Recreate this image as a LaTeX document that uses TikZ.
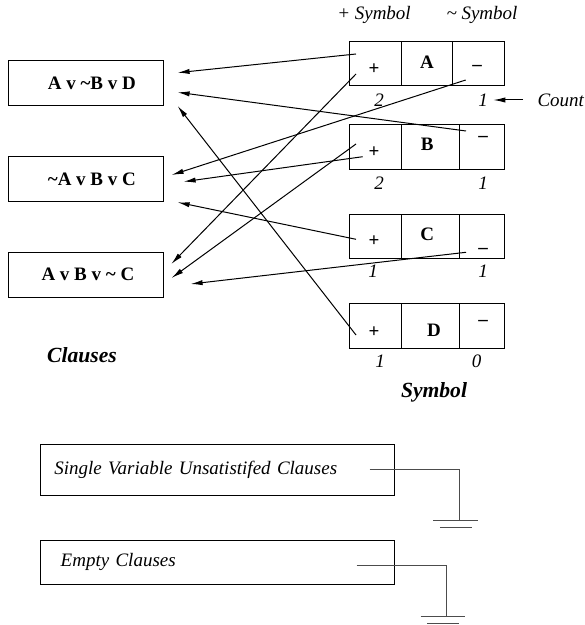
\documentclass[tikz,border=0pt]{standalone}
\usepackage{fontspec}
\setmainfont{Liberation Serif}
\usepackage{tikz}
\usetikzlibrary{positioning,calc,arrows.meta}

\newcommand{\figfont}{\fontsize{9.5}{11}\selectfont}
\newcommand{\titlefont}{\fontsize{10.8}{13}\selectfont}

\begin{document}
\begin{tikzpicture}[x=0.5pt,y=-0.5pt,line width=0.5pt,font=\figfont,
  clause/.style={draw,rectangle,minimum width=77.2pt,minimum height=22.3pt,inner sep=0,font=\figfont\bfseries},
  cell/.style={draw,rectangle,minimum height=22.2pt,inner sep=0,outer sep=0},
  sym/.style={inner sep=0,font=\figfont\bfseries},
  num/.style={inner sep=0,font=\figfont\itshape},
  head/.style={inner sep=0,font=\titlefont\bfseries\itshape},
  sink/.style={draw,rectangle,inner ysep=0,align=left,font=\figfont\itshape},
  arr/.style={-{Latex[length=6pt,width=2.6pt]}},
  wire/.style={black!70}]
\useasboundingbox (0,0) rectangle (584,625);

% clauses
\node[clause] (c1) at (85.9,83) {\hspace*{6pt}A v \textasciitilde B v D};
\node[clause] (c2) at (85.9,179) {\hspace*{6pt}\textasciitilde A v B v C};
\node[clause] (c3) at (85.9,274.8) {\hspace*{2pt}A v B v \textasciitilde{} C};
\node[head] (tclauses) at (82,355) {Clauses};

% symbol table
\node[num] (hplus) at (374,15) {+ Symbol};
\node[num] (hminus) at (482,15) {\textasciitilde{} Symbol};

\node[cell,minimum width=25.85pt] (pA) at (375.2,63.8) {};
\node[cell,minimum width=25.85pt,right=0pt of pA] (vA) {};
\node[cell,minimum width=25.65pt,right=0pt of vA] (mA) {};
\foreach \s/\y in {B/147.2,C/236.5,D/325.8}{
  \node[cell,minimum width=25.85pt] (p\s) at (375.2,\y) {};
  \node[cell,minimum width=29.15pt,right=0pt of p\s] (v\s) {};
  \node[cell,minimum width=22.35pt,right=0pt of v\s] (m\s) {};
}

\node[sym] (tpA) at ($(pA)+(-1.2,5.2)$) {+};
\node[sym] (tvA) at ($(vA)+(0,-1.8)$) {A};
\node[sym] (tmA) at ($(mA)+(-1.4,4.2)$) {--};
\node[sym] (tpB) at ($(pB)+(-1.2,4.8)$) {+};
\node[sym] (tvB) at ($(vB)+(-3,-3.2)$) {B};
\node[sym] (tmB) at ($(mB)+(1.3,-8.2)$) {--};
\node[sym] (tpC) at ($(pC)+(-1.2,4.2)$) {+};
\node[sym] (tvC) at ($(vC)+(-3,-2.5)$) {C};
\node[sym] (tmC) at ($(mC)+(1.3,14.5)$) {--};
\node[sym] (tpD) at ($(pD)+(-1.2,5.9)$) {+};
\node[sym] (tvD) at ($(vD)+(3.85,4.2)$) {D};
\node[sym] (tmD) at ($(mD)+(1.3,-2.8)$) {--};

% counts
\node[num] (kpA) at (379,100) {2};
\node[num] (kmA) at (483,100) {1};
\node[num] (kpB) at (379,183) {2};
\node[num] (kmB) at (483,183) {1};
\node[num] (kpC) at (373,271.7) {1};
\node[num] (kmC) at (483,271.7) {1};
\node[num] (kpD) at (380,361.7) {1};
\node[num] (kmD) at (476.7,361.7) {0};
\node[num,anchor=west] (count) at (537,100) {Count};
\draw[arr] ([xshift=-7pt]count.west) -- ([xshift=2.5pt]kmA.east);
\node[head] (tsymbol) at (434,392) {Symbol};

% occurrences
\draw[arr] ($(pA)+(-19.2,-9.8)$) -- ($(c1.east)+(14,-10.3)$);
\draw[arr] ($(pA)+(-19.2,10.2)$) -- ($(c3.east)+(7.7,-10.8)$);
\draw[arr] ($(mA)+(-12.7,16.2)$) -- ($(c2.east)+(8,-4)$);
\draw[arr] ($(mB)+(-15.7,-16.2)$) -- ($(c1.east)+(14,9.3)$);
\draw[arr] ($(pB)+(-19.2,-3.2)$) -- ($(c3.east)+(8,3.2)$);
\draw[arr] ($(pB)+(-12.5,9.5)$) -- ($(c2.east)+(20,2.7)$);
\draw[arr] ($(pC)+(-19.2,2.8)$) -- ($(c2.east)+(14,23.3)$);
\draw[arr] ($(mC)+(-15.7,15.8)$) -- ($(c3.east)+(27,9.2)$);
\draw[arr] ($(pD)+(-19.2,9.2)$) -- ($(c1.east)+(14,23)$);

% unsatisfied / empty lists
\node[sink,minimum height=25.5pt,text width=163.2pt,inner xsep=6.8pt] (u1) at (217.5,469.8) {Single Variable Unsatistifed Clauses};
\node[sink,minimum height=22.2pt,text width=156.8pt,inner xsep=10pt] (u2) at (217.5,562.2) {Empty Clauses};

\coordinate (g1) at (459.3,520.7);
\coordinate (g2) at (446.7,616.7);
\draw[wire] ($(u1.east)+(-25.3,0)$) -| (g1);
\draw[wire] ($(u2.east)+(-38.3,3.1)$) -| (g2);
\foreach \g in {g1,g2}
  \draw[wire] ($(\g)+(-26,0)$) -- ($(\g)+(18.5,0)$) ($(\g)+(-19.5,6.3)$) -- ($(\g)+(12.3,6.3)$);

\end{tikzpicture}
\end{document}
